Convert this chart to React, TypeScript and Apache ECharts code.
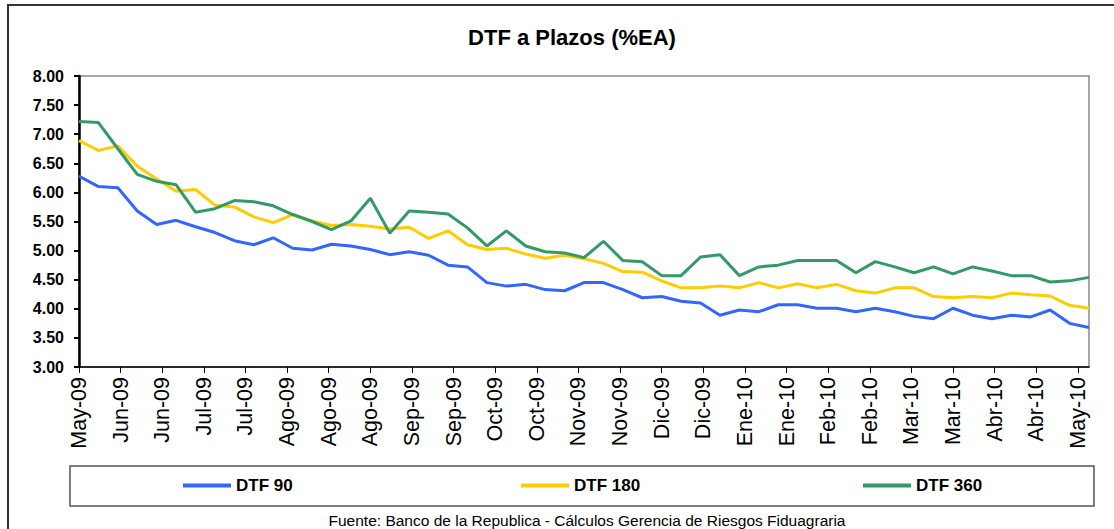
import React, { useEffect, useRef } from "react";
import * as echarts from "echarts";

const tickLabels = [
  "May-09", "Jun-09", "Jun-09", "Jul-09", "Jul-09", "Ago-09", "Ago-09", "Ago-09",
  "Sep-09", "Sep-09", "Oct-09", "Oct-09", "Nov-09", "Nov-09", "Dic-09", "Dic-09",
  "Ene-10", "Ene-10", "Feb-10", "Feb-10", "Mar-10", "Mar-10", "Abr-10", "Abr-10", "May-10",
];

const seriesNames = ["DTF 90", "DTF 180", "DTF 360"];

const dtf90 = [
  6.28, 6.10, 6.08, 5.68, 5.45, 5.52, 5.41, 5.31, 5.17, 5.10, 5.22, 5.04, 5.01, 5.11, 5.08, 5.02, 4.93, 4.98,
  4.92, 4.75, 4.72, 4.45, 4.39, 4.42, 4.33, 4.31, 4.45, 4.45, 4.33, 4.19, 4.21, 4.13, 4.10, 3.89, 3.98,
  3.95, 4.07, 4.07, 4.01, 4.01, 3.95, 4.01, 3.95, 3.87, 3.83, 4.01, 3.89, 3.83, 3.89, 3.86, 3.98, 3.75, 3.68,
];

const dtf180 = [
  6.89, 6.72, 6.80, 6.45, 6.23, 6.02, 6.05, 5.78, 5.75, 5.58, 5.48, 5.62, 5.51, 5.43, 5.45, 5.42, 5.37, 5.40,
  5.21, 5.34, 5.10, 5.02, 5.04, 4.94, 4.87, 4.92, 4.86, 4.78, 4.64, 4.63, 4.48, 4.36, 4.36, 4.39, 4.36,
  4.45, 4.36, 4.43, 4.36, 4.42, 4.31, 4.27, 4.36, 4.36, 4.21, 4.19, 4.21, 4.19, 4.27, 4.24, 4.22, 4.06, 4.01,
];

const dtf360 = [
  7.22, 7.20, 6.75, 6.31, 6.19, 6.13, 5.66, 5.72, 5.86, 5.84, 5.77, 5.62, 5.50, 5.36, 5.51, 5.90, 5.30, 5.68,
  5.66, 5.63, 5.39, 5.08, 5.34, 5.08, 4.98, 4.96, 4.88, 5.16, 4.83, 4.81, 4.57, 4.57, 4.89, 4.93, 4.57,
  4.72, 4.75, 4.83, 4.83, 4.83, 4.62, 4.81, 4.72, 4.62, 4.72, 4.60, 4.72, 4.65, 4.57, 4.57, 4.46, 4.48, 4.54,
];

const colors = ["#3366FF", "#FFCC00", "#339966"];

// weekly observations (7 days apart); axis ticks every 15 days
const DAYS_PER_POINT = 7;
const DAYS_PER_TICK = 15;

const FONT = "'Liberation Sans', Arial, sans-serif";

export default function App() {
  const ref = useRef<HTMLDivElement>(null);

  useEffect(() => {
    if (!ref.current) return;
    const chart = echarts.init(ref.current, undefined, { renderer: "svg" });
    const all = [dtf90, dtf180, dtf360];
    const maxDay = (dtf90.length - 1) * DAYS_PER_POINT;

    const legendX = [178, 516, 858];

    chart.setOption({
      animation: false,
      backgroundColor: "#ffffff",
      title: {
        text: "DTF a Plazos (%EA)",
        left: 567,
        top: 21,
        textAlign: "center",
        textStyle: { fontFamily: FONT, fontSize: 22, fontWeight: "bold", color: "#000" },
      },
      legend: seriesNames.map((n, i) => ({
        data: [n],
        left: legendX[i],
        top: 472,
        icon: "rect",
        itemWidth: 48,
        itemHeight: 4,
        itemGap: 0,
        selectedMode: false,
        textStyle: { fontFamily: FONT, fontSize: 17, fontWeight: "bold", color: "#000" },
      })),
      grid: {
        left: 79,
        right: 25,
        top: 76,
        bottom: 162,
        show: true,
        borderColor: "#8a8a8a",
        borderWidth: 1.5,
        backgroundColor: "transparent",
      },
      xAxis: {
        type: "value",
        min: 0,
        max: maxDay,
        interval: DAYS_PER_TICK,
        axisLine: { show: true, lineStyle: { color: "#000", width: 1.5 } },
        axisTick: { show: true, length: 6, lineStyle: { color: "#000", width: 1 } },
        splitLine: { show: false },
        axisLabel: {
          rotate: 90,
          margin: 10,
          showMaxLabel: false,
          fontFamily: FONT,
          fontSize: 21.5,
          color: "#000",
          formatter: (v: number) => {
            const k = Math.round(v / DAYS_PER_TICK);
            return Math.abs(v - k * DAYS_PER_TICK) < 0.01 && tickLabels[k] ? tickLabels[k] : "";
          },
        },
      },
      yAxis: {
        type: "value",
        min: 3,
        max: 8,
        interval: 0.5,
        axisLine: { show: true, lineStyle: { color: "#000", width: 2.5 } },
        axisTick: { show: true, length: 5, lineStyle: { color: "#000", width: 2 } },
        splitLine: { show: false },
        axisLabel: {
          margin: 15,
          fontFamily: FONT,
          fontSize: 16,
          fontWeight: "bold",
          color: "#000",
          formatter: (v: number) => v.toFixed(2),
        },
      },
      series: seriesNames.map((n, i) => ({
        name: n,
        type: "line",
        showSymbol: false,
        symbol: "none",
        color: colors[i],
        lineStyle: { color: colors[i], width: 3 },
        data: all[i].map((v, j) => [j * DAYS_PER_POINT, v]),
      })),
      graphic: [
        {
          type: "rect",
          shape: { x: 8, y: 5, width: 1130, height: 560 },
          style: { fill: "none", stroke: "#333333", lineWidth: 2 },
          silent: true,
        },
        {
          type: "rect",
          shape: { x: 70, y: 466, width: 1024, height: 40 },
          style: { fill: "none", stroke: "#555555", lineWidth: 1.5 },
          silent: true,
        },
        {
          type: "text",
          x: 587,
          y: 520,
          style: {
            text: "Fuente: Banco de la Republica - Cálculos Gerencia de Riesgos Fiduagraria",
            fontFamily: FONT,
            fontSize: 15.5,
            fill: "#000",
            align: "center",
            verticalAlign: "middle",
          },
          silent: true,
        },
      ],
    });

    return () => chart.dispose();
  }, []);

  return (
    <div
      ref={ref}
      style={{ position: "fixed", left: 0, top: 0, width: 1114, height: 529 }}
    />
  );
}
